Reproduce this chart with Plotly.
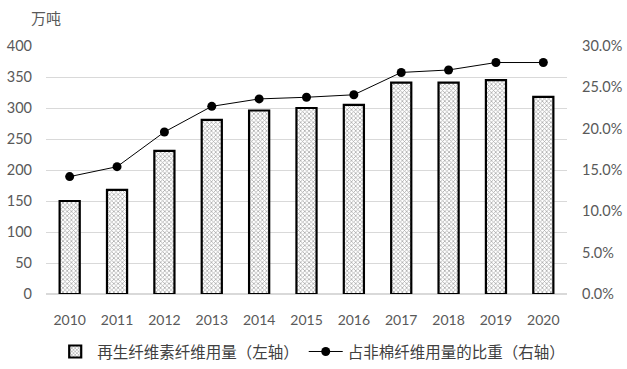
import plotly.graph_objects as go

years = ["2010", "2011", "2012", "2013", "2014", "2015", "2016", "2017", "2018", "2019", "2020"]
usage = [150, 168, 231, 281, 296, 300, 305, 341, 341, 345, 318]
share = [14.2, 15.4, 19.6, 22.7, 23.6, 23.8, 24.1, 26.8, 27.1, 28.0, 28.0]
left_ticks = [0, 50, 100, 150, 200, 250, 300, 350, 400]
right_ticks = [0, 5, 10, 15, 20, 25, 30]

font_family = "Lato, 'Noto Sans CJK SC', sans-serif"
cjk = "'Noto Sans CJK SC', sans-serif"
tick_color = "#595959"

fig = go.Figure()
fig.add_trace(go.Bar(
    x=years, y=usage, name="再生纤维素纤维用量（左轴）",
    marker=dict(color="#b0b0b0", line=dict(color="black", width=2.2),
                pattern=dict(shape="x", fgcolor="#555555", bgcolor="#ffffff", size=3, solidity=0.45)),
    yaxis="y",
))
fig.add_trace(go.Scatter(
    x=years, y=share, name="占非棉纤维用量的比重（右轴）", mode="lines+markers",
    line=dict(color="black", width=1),
    marker=dict(color="black", size=9),
    yaxis="y2",
))

fig.update_layout(
    width=627, height=369,
    margin=dict(l=46, r=60, t=46, b=75, autoexpand=False),
    paper_bgcolor="white", plot_bgcolor="white",
    font=dict(family=font_family, size=14, color=tick_color),
    bargap=0.575,
    showlegend=True,
    legend=dict(orientation="h", x=0.51, xanchor="center", y=-0.165, yanchor="top",
                font=dict(size=15.5, color="#404040", family=cjk),
                traceorder="normal", itemwidth=34),
    xaxis=dict(type="category", range=[-0.5, 10.5], showgrid=False, showline=False, ticks="",
               automargin=False,
               tickfont=dict(size=14, color=tick_color), ticklabelstandoff=16),
    yaxis=dict(range=[0, 400], tickvals=left_ticks, showgrid=True, gridcolor="#d9d9d9", gridwidth=1,
               zeroline=True, zerolinecolor="#d9d9d9", showline=False, ticks="", automargin=False,
               tickfont=dict(size=14.5, color=tick_color), ticklabelstandoff=13),
    yaxis2=dict(range=[0, 30], tickvals=right_ticks, ticktext=[f"{v:.1f}%" for v in right_ticks],
                overlaying="y", side="right", showgrid=False, zeroline=False, showline=False, ticks="",
                automargin=False,
                tickfont=dict(size=14.5, color=tick_color), ticklabelstandoff=14),
    annotations=[dict(text="万吨", xref="paper", yref="paper", x=-0.0, y=1.065,
                      xanchor="center", yanchor="bottom", showarrow=False,
                      font=dict(size=15, color=tick_color, family=cjk))],
)
fig.write_html("out.html", config={"displayModeBar": False},
               post_script="document.body.style.margin='0';document.body.style.padding='0';"
                           "document.body.style.overflow='hidden';")
